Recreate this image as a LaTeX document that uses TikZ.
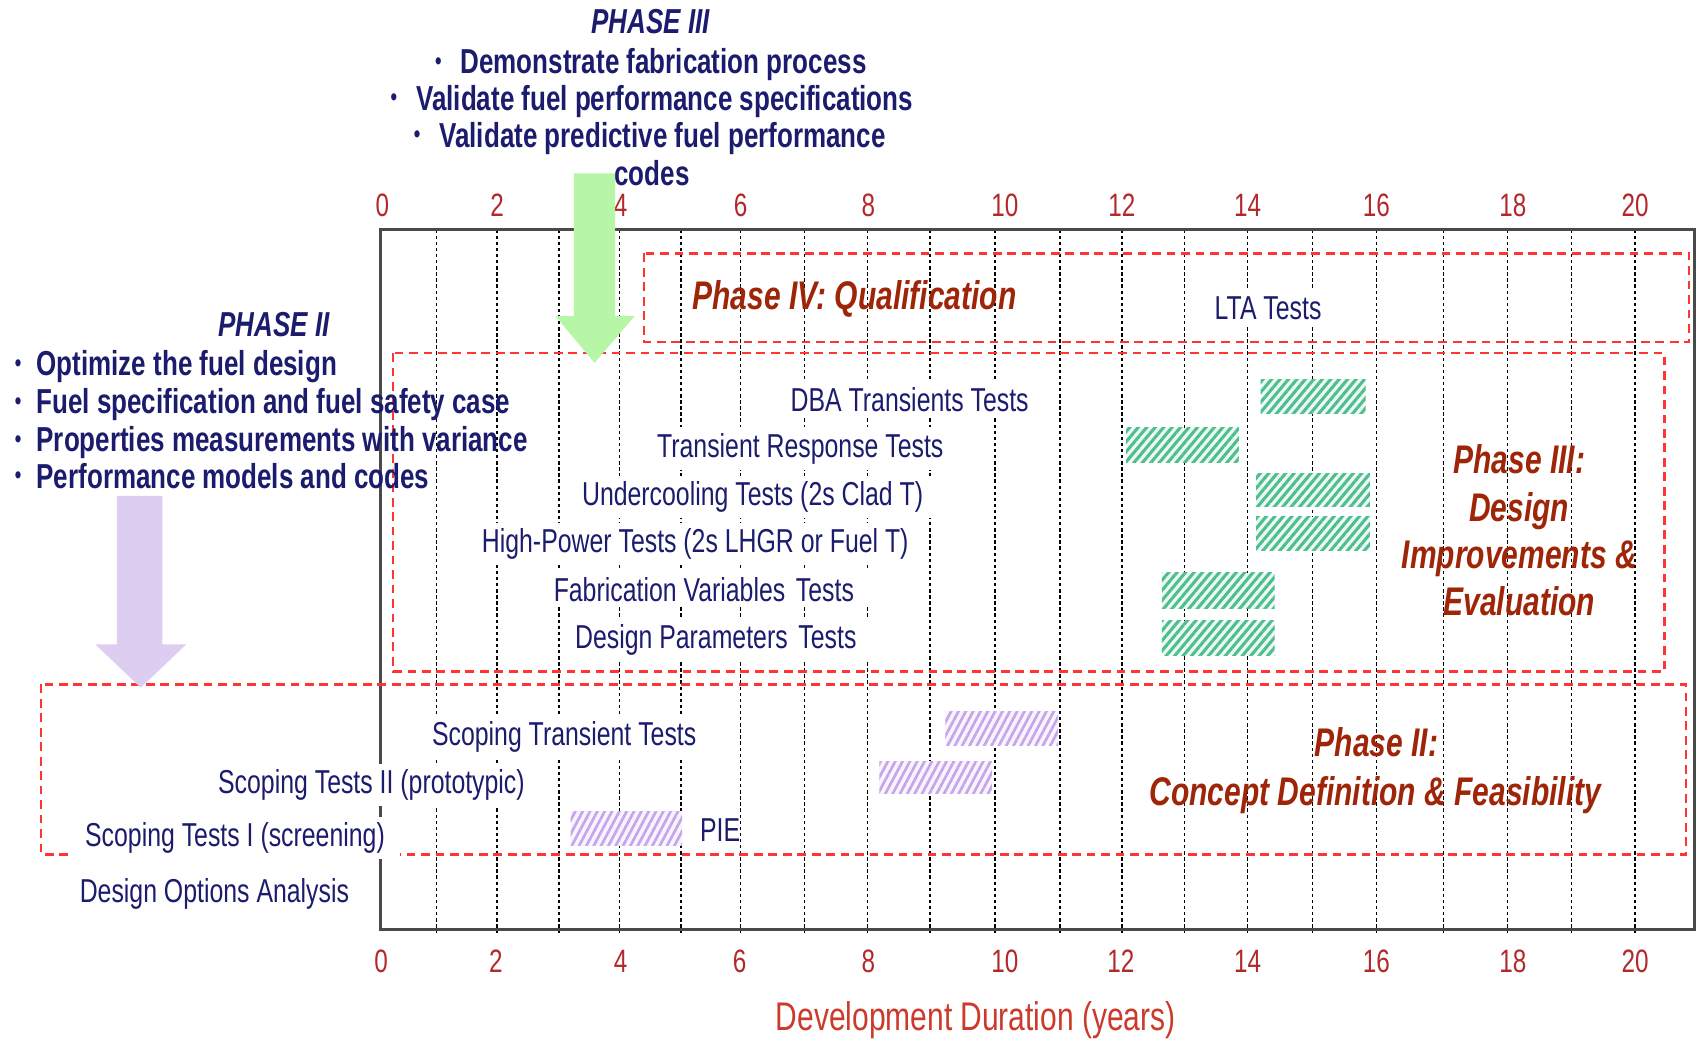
\documentclass[tikz,border=0pt]{standalone}
\usepackage{fontspec}
\setmainfont{Liberation Sans}[FakeStretch=0.75]
\usetikzlibrary{patterns.meta}

\definecolor{navy}{HTML}{1C1C6E}
\definecolor{phasered}{HTML}{9E2508}
\definecolor{axisred}{HTML}{B3282A}
\definecolor{durred}{HTML}{CC3A2C}
\definecolor{boxred}{HTML}{FF3535}
\definecolor{framegray}{HTML}{4A4A4A}
\definecolor{hatchgreen}{HTML}{4DBE8E}
\definecolor{hatchpurple}{HTML}{C6A5EC}
\definecolor{arrowgreen}{HTML}{B6F6A6}
\definecolor{arrowpurple}{HTML}{DDCDF1}

% small bullet for the objective lists
\newcommand{\objbul}{{\fontsize{6.5}{6.5}\selectfont\raisebox{0.35ex}{•}}}

\tikzset{
  lbl/.style={font=\fontsize{8.7}{10}\selectfont, text=navy, fill=white,
    inner xsep=4pt, inner ysep=1.5pt, anchor=base},
  plainlbl/.style={font=\fontsize{8.7}{10}\selectfont, text=navy, inner sep=0pt, anchor=base},
  hdr/.style={font=\fontsize{9.1}{10}\selectfont\bfseries, text=navy, inner sep=0pt, anchor=base},
  hdrttl/.style={font=\fontsize{9.1}{10}\selectfont\bfseries\itshape, text=navy, inner sep=0pt, anchor=base},
  phasettl/.style={font=\fontsize{10.5}{12}\selectfont\bfseries\itshape, text=phasered, inner sep=0pt, anchor=base},
  axnum/.style={font=\fontsize{8.5}{10}\selectfont, text=axisred, inner sep=0pt, anchor=base},
  gridln/.style={black, line width=0.4pt, dash pattern=on 0.9pt off 0.7pt},
  phasebox/.style={draw=boxred, line width=0.6pt, dash pattern=on 2.3pt off 1.5pt},
  ghatch/.style={fill=hatchgreen!10, postaction={pattern={Lines[angle=50,distance=1.7pt,line width=0.8pt]}, pattern color=hatchgreen}},
  phatch/.style={fill=hatchpurple!12, postaction={pattern={Lines[angle=62,distance=1.7pt,line width=0.7pt]}, pattern color=hatchpurple}},
}

\begin{document}
\begin{tikzpicture}[x=0.01cm, y=-0.01cm]
\useasboundingbox[fill=white] (0,0) rectangle (1568,959);

% yearly grid lines
\foreach \gx in {403,459,516,572,629,684,743,801,859,919,979,1036,1094,1152,1212,1271,1333,1392,1451,1510}
  \draw[gridln] (\gx,212) -- (\gx,862);

% chart frame
\draw[framegray, line width=0.75pt] (351,212) rectangle (1565,858);

% phase regions
\draw[phasebox] (595,234) rectangle (1560,316);
\draw[phasebox] (363,326) rectangle (1537,620);
\draw[phasebox] (38,632) rectangle (1557,789);

% test bars, phase III
\fill[ghatch] (1164,350) rectangle (1261,382);
\fill[ghatch] (1040,395) rectangle (1144,427);
\fill[ghatch] (1160,437) rectangle (1265,468);
\fill[ghatch] (1160,477) rectangle (1265,508);
\fill[ghatch] (1073,529) rectangle (1177,562);
\fill[ghatch] (1073,573) rectangle (1177,605);
% test bars, phase II
\fill[phatch] (873,657) rectangle (977,688);
\fill[phatch] (812,703) rectangle (916,733);
\fill[phatch] (527,749) rectangle (630,781);

% axis numbers
\foreach \v/\tx/\bx in {0/353/352, 2/459/458, 4/573/573, 6/684/683, 8/802/802, 10/928/928,
                        12/1036/1035, 14/1152/1152, 16/1271/1271, 18/1397/1397, 20/1510/1510}{
  \node[axnum] (top\v) at (\tx,200) {\v};
  \node[axnum] (bot\v) at (\bx,898) {\v};
}
\node[font=\fontsize{10.5}{12}\selectfont, text=durred, inner sep=0pt, anchor=base]
  (xlabel) at (901,952) {Development Duration (years)};

% test labels
\node[lbl] (lta) at (1171,295) {LTA Tests};
\node[lbl] (dba) at (840,380) {DBA Transients Tests};
\node[lbl] (trt) at (739,422) {Transient Response Tests};
\node[lbl] (uct) at (695,467) {Undercooling Tests (2s Clad T)};
\node[lbl] (hpt) at (642,510) {High-Power Tests (2s LHGR or Fuel T)};
\node[lbl] (fvt) at (650,555) {Fabrication Variables\hspace{1pt} Tests};
\node[lbl] (dpt) at (661,599) {Design Parameters\hspace{1pt} Tests};
\node[lbl] (stt) at (521,688) {Scoping Transient Tests};
\node[lbl] (st2) at (343,733) {Scoping Tests II (prototypic)};
\node[lbl] (st1) at (217,782) {Scoping Tests I (screening)};
\node[plainlbl] (pie) at (665,777) {PIE};
\node[lbl] (doa) at (198,833) {Design Options Analysis};

% phase titles
\node[phasettl] (ph4) at (789,286) {Phase IV: Qualification};
\node[phasettl] (ph3a) at (1403,437) {Phase III:};
\node[phasettl] (ph3b) at (1403,482) {Design};
\node[phasettl] (ph3c) at (1403,525) {Improvements \&};
\node[phasettl] (ph3d) at (1403,568) {Evaluation};
\node[phasettl] (ph2a) at (1271,699) {Phase II:};
\node[phasettl] (ph2b) at (1270,744) {Concept Definition \& Feasibility};

% objectives of phase III
\node[hdrttl] (p3t) at (601,31) {PHASE III};
\node[hdr] (p3a) at (601,68) {\objbul\hspace{5pt}Demonstrate fabrication process};
\node[hdr] (p3b) at (602,102) {\objbul\hspace{5pt}Validate fuel performance specifications};
\node[hdr] (p3c) at (600,136) {\objbul\hspace{5pt}Validate predictive fuel performance};
\node[hdr] (p3d) at (602,171) {codes};

% objectives of phase II
\node[hdrttl] (p2t) at (253,311) {PHASE II};
\node[hdr, anchor=base west] (p2a) at (13,347) {\objbul\hspace{4pt}Optimize the fuel design};
\node[hdr, anchor=base west] (p2b) at (13,382) {\objbul\hspace{4pt}Fuel specification and fuel safety case};
\node[hdr, anchor=base west] (p2c) at (13,417) {\objbul\hspace{4pt}Properties measurements with variance};
\node[hdr, anchor=base west] (p2d) at (13,451) {\objbul\hspace{4pt}Performance models and codes};

% block arrows from the objectives into the chart
\fill[arrowgreen] (530,160) -- (568,160) -- (568,292) -- (586,292) -- (549,335)
  -- (513,292) -- (530,292) -- cycle;
\fill[arrowpurple] (108,458) -- (150,458) -- (150,595) -- (172,595) -- (130,635)
  -- (88,595) -- (108,595) -- cycle;
\end{tikzpicture}
\end{document}
